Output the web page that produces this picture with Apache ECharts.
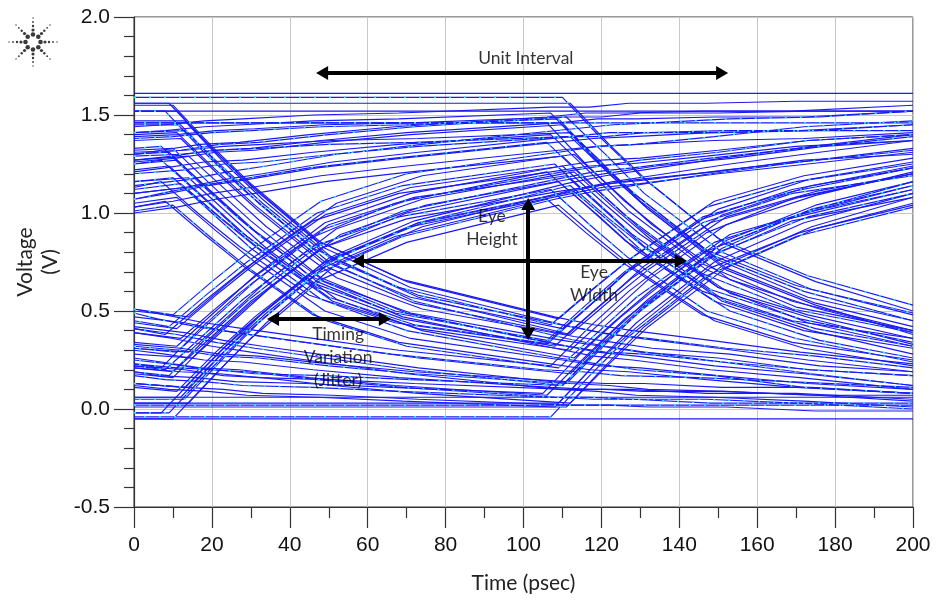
<!DOCTYPE html>
<html>
<head>
<meta charset="utf-8">
<title>Eye Diagram</title>
<script src="https://cdn.jsdelivr.net/npm/echarts@6/dist/echarts.min.js"></script>
<style>
  html, body { margin: 0; padding: 0; background: #fff; }
  #chart { width: 937px; height: 605px; }
</style>
</head>
<body>
<div id="chart"></div>
<script>
// Sample instants (ps) at which each captured waveform is recorded
const timeNodes = [0, 9, 19, 29, 47, 69, 108, 118, 128, 148, 171, 200];

// Captured waveforms (V), one per 5-bit history pattern
const p00000 = [0, 0, 0, 0, 0, 0, 0, 0, 0, 0, 0, 0];
const p00001 = [0, 0, 0, 0, 0, 0, 0, 0.21, 0.41, 0.72, 0.92, 1.07];
const p00010 = [0, 0, 0.21, 0.41, 0.71, 0.90, 1.09, 0.92, 0.76, 0.50, 0.36, 0.27];
const p00011 = [0, 0, 0.21, 0.41, 0.71, 0.90, 1.09, 1.13, 1.16, 1.22, 1.28, 1.34];
const p00100 = [1.06, 1.09, 0.92, 0.76, 0.51, 0.37, 0.26, 0.23, 0.22, 0.18, 0.14, 0.11];
const p00101 = [1.06, 1.09, 0.92, 0.76, 0.51, 0.37, 0.26, 0.44, 0.62, 0.90, 1.05, 1.17];
const p00110 = [1.06, 1.09, 1.13, 1.16, 1.22, 1.27, 1.35, 1.16, 0.98, 0.68, 0.50, 0.38];
const p00111 = [1.06, 1.09, 1.13, 1.16, 1.22, 1.27, 1.35, 1.37, 1.38, 1.40, 1.41, 1.44];
const p01000 = [0.28, 0.26, 0.23, 0.22, 0.18, 0.14, 0.09, 0.08, 0.08, 0.06, 0.06, 0.03];
const p01001 = [0.28, 0.26, 0.23, 0.22, 0.18, 0.14, 0.09, 0.29, 0.48, 0.78, 0.98, 1.10];
const p01010 = [0.28, 0.26, 0.44, 0.62, 0.89, 1.04, 1.18, 1.00, 0.83, 0.56, 0.42, 0.30];
const p01011 = [0.28, 0.26, 0.44, 0.62, 0.89, 1.04, 1.18, 1.21, 1.24, 1.28, 1.34, 1.37];
const p01100 = [1.34, 1.35, 1.16, 0.98, 0.69, 0.51, 0.35, 0.31, 0.29, 0.24, 0.20, 0.14];
const p01101 = [1.34, 1.35, 1.16, 0.98, 0.69, 0.51, 0.35, 0.52, 0.70, 0.96, 1.11, 1.20];
const p01110 = [1.34, 1.35, 1.37, 1.38, 1.40, 1.41, 1.44, 1.23, 1.05, 0.74, 0.56, 0.41];
const p01111 = [1.34, 1.35, 1.37, 1.38, 1.40, 1.41, 1.44, 1.44, 1.46, 1.46, 1.47, 1.47];
const p10000 = [0.17, 0.15, 0.14, 0.12, 0.11, 0.09, 0.06, 0.06, 0.05, 0.05, 0.03, 0.03];
const p10001 = [0.17, 0.15, 0.14, 0.12, 0.11, 0.09, 0.06, 0.27, 0.45, 0.77, 0.95, 1.10];
const p10010 = [0.17, 0.15, 0.35, 0.53, 0.81, 0.99, 1.15, 0.98, 0.80, 0.54, 0.39, 0.30];
const p10011 = [0.17, 0.15, 0.35, 0.53, 0.81, 0.99, 1.15, 1.19, 1.21, 1.26, 1.31, 1.37];
const p10100 = [1.22, 1.24, 1.06, 0.88, 0.62, 0.46, 0.32, 0.29, 0.26, 0.23, 0.17, 0.14];
const p10101 = [1.22, 1.24, 1.06, 0.88, 0.62, 0.46, 0.32, 0.50, 0.67, 0.95, 1.08, 1.20];
const p10110 = [1.22, 1.24, 1.27, 1.28, 1.32, 1.36, 1.41, 1.22, 1.02, 0.72, 0.53, 0.41];
const p10111 = [1.22, 1.24, 1.27, 1.28, 1.32, 1.36, 1.41, 1.43, 1.43, 1.44, 1.44, 1.47];
const p11000 = [0.44, 0.41, 0.37, 0.34, 0.29, 0.23, 0.15, 0.14, 0.12, 0.11, 0.09, 0.06];
const p11001 = [0.44, 0.41, 0.37, 0.34, 0.29, 0.23, 0.15, 0.35, 0.53, 0.83, 1.01, 1.13];
const p11010 = [0.44, 0.41, 0.58, 0.74, 0.99, 1.13, 1.24, 1.06, 0.88, 0.60, 0.45, 0.33];
const p11011 = [0.44, 0.41, 0.58, 0.74, 0.99, 1.13, 1.24, 1.27, 1.28, 1.32, 1.37, 1.40];
const p11100 = [1.50, 1.50, 1.29, 1.10, 0.80, 0.60, 0.41, 0.37, 0.34, 0.29, 0.23, 0.17];
const p11101 = [1.50, 1.50, 1.29, 1.10, 0.80, 0.60, 0.41, 0.58, 0.74, 1.01, 1.14, 1.23];
const p11110 = [1.50, 1.50, 1.50, 1.50, 1.50, 1.50, 1.50, 1.29, 1.10, 0.78, 0.59, 0.44];
const p11111 = [1.50, 1.50, 1.50, 1.50, 1.50, 1.50, 1.50, 1.50, 1.50, 1.50, 1.50, 1.50];

const waveforms = [
  p00000, p00001, p00010, p00011, p00100, p00101, p00110, p00111,
  p01000, p01001, p01010, p01011, p01100, p01101, p01110, p01111,
  p10000, p10001, p10010, p10011, p10100, p10101, p10110, p10111,
  p11000, p11001, p11010, p11011, p11100, p11101, p11110, p11111
];

// Three acquisitions per pattern: amplitude noise (V) and timing jitter (ps)
const noiseA = [0.02, -0.04, 0.05, -0.02, 0.06, -0.05, 0.01, 0.08, -0.03, 0.04, -0.06, 0.03, 0.07, -0.01, 0.04, -0.05,
                0.00, 0.06, -0.04, 0.02, -0.06, 0.03, 0.08, -0.02, 0.05, -0.03, 0.01, 0.07, -0.05, 0.02, 0.09, -0.04];
const noiseB = [-0.05, 0.03, -0.02, 0.06, -0.03, 0.04, -0.06, 0.01, 0.05, -0.02, 0.03, -0.07, -0.04, 0.06, -0.03, 0.10,
                0.04, -0.05, 0.06, -0.04, 0.03, -0.06, -0.01, 0.05, -0.02, 0.07, -0.05, 0.00, 0.06, -0.03, -0.04, 0.11];
const noiseC = [0.06, 0.01, -0.05, 0.03, -0.01, 0.07, 0.04, -0.03, 0.02, -0.06, 0.06, 0.00, -0.02, 0.03, 0.07, 0.05,
                -0.04, 0.02, 0.01, -0.06, 0.05, 0.00, 0.04, 0.08, -0.05, 0.03, 0.06, -0.03, 0.02, 0.05, 0.06, 0.02];
const jitterA = [2, -1, 4, 0, 3, 1, -2, 5, 0, 3, -1, 2, 4, -2, 1, 3, -1, 2, 5, 0, 1, -2, 3, 4, -3, 2, 0, 1, 3, -1, 2, 0];
const jitterB = [5, 1, -2, 3, -1, 4, 2, 0, 3, -2, 5, 1, 0, 2, 4, -1, 3, 0, -2, 4, 2, 5, -1, 1, 4, -1, 3, 2, 0, 4, -2, 3];
const jitterC = [0, 3, 1, 5, 2, -2, 4, 1, -1, 4, 2, 6, 1, 3, -1, 2, 4, -3, 1, 2, 5, 0, 2, -2, 1, 4, 5, -1, 2, 1, 4, -2];

// Measurement annotations: [t1, v1, t2, v2] in axis units
const unitIntervalArrow = [48.3, 1.714, 151.0, 1.714];
const eyeWidthArrow = [57.5, 0.755, 140.4, 0.755];
const eyeHeightArrow = [101.2, 1.046, 101.2, 0.383];
const jitterArrow = [35.7, 0.459, 64.4, 0.459];
const annotationTexts = [
  { name: 'Unit Interval', value: [100.6, 1.79] },
  { name: 'Eye\nHeight', value: [91.9, 0.923] },
  { name: 'Eye\nWidth', value: [118.1, 0.638] },
  { name: 'Timing\nVariation\n(Jitter)', value: [52.4, 0.265] }
];

const xTicks = { min: 0, max: 200, step: 20 };
const yTicks = { min: -0.5, max: 2.0, step: 0.5 };

function capture(vals, jit, noise) {
  const last = timeNodes.length - 1;
  return vals.map((v, i) => [timeNodes[i] + (i > 0 && i < last ? jit : 0), +(v + noise).toFixed(3)]);
}

const traceColor = '#1a1af8';
const series = [];
[[noiseA, jitterA], [noiseB, jitterB], [noiseC, jitterC]].forEach(([noise, jitter]) => {
  waveforms.forEach((w, k) => {
    series.push({
      type: 'line', data: capture(w, jitter[k], noise[k]), symbol: 'none', silent: true,
      lineStyle: { color: traceColor, width: 1.15 }, z: 2
    });
  });
});
// sparse cyan persistence highlights along the traces
waveforms.forEach((w, k) => {
  series.push({
    type: 'line', data: capture(w, jitterA[k], noiseA[k]), symbol: 'none', silent: true,
    lineStyle: { color: '#2ee6ff', width: 1.6, type: [2, 13], dashOffset: (k * 5) % 15 }, z: 3
  });
});

const arrowPairs = [unitIntervalArrow, eyeWidthArrow, eyeHeightArrow, jitterArrow]
  .map(a => [{ coord: [a[0], a[1]] }, { coord: [a[2], a[3]] }]);

series.push({
  type: 'line', data: [], z: 10, silent: true,
  markLine: {
    silent: true, animation: false,
    symbol: ['triangle', 'triangle'], symbolSize: [14, 12],
    label: { show: false },
    lineStyle: { color: '#000', width: 4, type: 'solid', opacity: 1 },
    emphasis: { disabled: true },
    data: arrowPairs
  }
});

series.push({
  type: 'scatter', data: annotationTexts, symbolSize: 0, z: 11, silent: true,
  label: {
    show: true, position: 'inside', formatter: p => p.name,
    fontFamily: 'Lato', fontSize: 17.5, color: '#000', lineHeight: 23
  }
});

// decorative spark emblem in the upper-left corner
const spark = [];
const rings = [[7.5, 2.3], [12, 1.6], [16, 1.2], [20, 0.9], [24, 0.7]];
for (let k = 0; k < 8; k++) {
  const a = k * Math.PI / 4;
  rings.forEach(([r, s]) => spark.push({
    type: 'circle', shape: { cx: 33 + r * Math.cos(a), cy: 42 + r * Math.sin(a), r: s },
    style: { fill: '#3a3a3a' }, silent: true
  }));
}

const chart = echarts.init(document.getElementById('chart'), null, { renderer: 'canvas' });
chart.setOption({
  animation: false,
  backgroundColor: '#ffffff',
  graphic: spark,
  grid: { left: 134, right: 24, top: 17, bottom: 98, show: true, borderColor: '#333', borderWidth: 1, backgroundColor: '#fff' },
  xAxis: {
    type: 'value', min: xTicks.min, max: xTicks.max, interval: xTicks.step,
    axisLine: { show: true, onZero: false, lineStyle: { color: '#333', width: 1.2 } },
    axisTick: { show: true, length: 21, lineStyle: { color: '#333', width: 1.2 } },
    minorTick: { show: true, splitNumber: 2, length: 11, lineStyle: { color: '#333', width: 1.2 } },
    splitLine: { show: true, lineStyle: { color: '#c8c8c8', width: 1 } },
    axisLabel: { fontFamily: 'Liberation Sans', fontSize: 21, color: '#111', margin: 28 },
    name: 'Time (psec)', nameLocation: 'middle', nameGap: 66,
    nameTextStyle: { fontFamily: 'Lato', fontSize: 21, color: '#222' }
  },
  yAxis: {
    type: 'value', min: yTicks.min, max: yTicks.max, interval: yTicks.step,
    axisLine: { show: true, onZero: false, lineStyle: { color: '#333', width: 1.2 } },
    axisTick: { show: true, length: 20, lineStyle: { color: '#333', width: 1.2 } },
    minorTick: { show: true, splitNumber: 5, length: 10, lineStyle: { color: '#333', width: 1.2 } },
    splitLine: { show: true, lineStyle: { color: '#c8c8c8', width: 1 } },
    axisLabel: { fontFamily: 'Liberation Sans', fontSize: 21, color: '#111', margin: 24, formatter: v => v.toFixed(1) },
    name: 'Voltage\n(V)', nameLocation: 'middle', nameRotate: 90, nameGap: 68,
    nameTextStyle: { fontFamily: 'Lato', fontSize: 21, color: '#222', lineHeight: 25 }
  },
  series: series
});
</script>
</body>
</html>
